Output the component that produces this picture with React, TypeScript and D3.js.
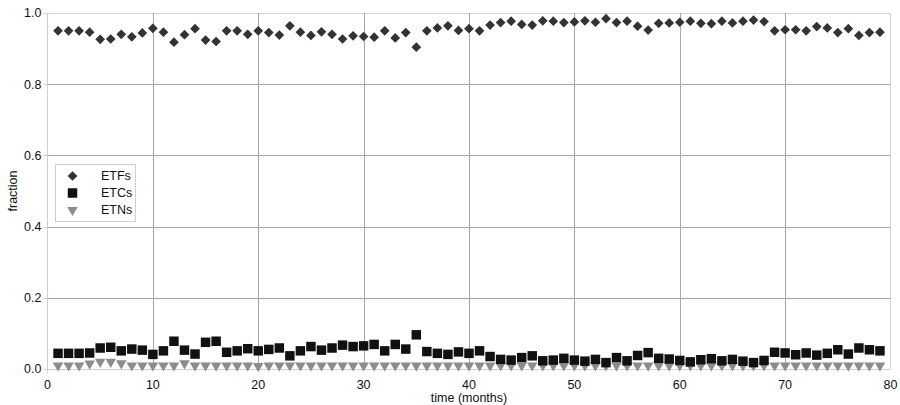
import React, { useEffect } from "react";
import * as d3 from "d3";

const months = d3.range(1, 80);
const etfs = [
  0.95, 0.95, 0.95, 0.946, 0.926, 0.927, 0.94, 0.933, 0.944, 0.957,
  0.946, 0.918, 0.939, 0.956, 0.924, 0.92, 0.95, 0.95, 0.94, 0.95,
  0.945, 0.938, 0.964, 0.946, 0.937, 0.947, 0.94, 0.927, 0.936, 0.934,
  0.932, 0.95, 0.93, 0.945, 0.904, 0.95, 0.958, 0.964, 0.951, 0.956,
  0.95, 0.966, 0.973, 0.977, 0.968, 0.966, 0.978, 0.977, 0.973, 0.975,
  0.978, 0.974, 0.984, 0.973, 0.977, 0.963, 0.952, 0.971, 0.972, 0.974,
  0.977, 0.971, 0.97, 0.977, 0.972, 0.977, 0.98, 0.976, 0.95, 0.953,
  0.953, 0.95, 0.962, 0.958, 0.945, 0.956, 0.937, 0.945, 0.946,
];
const etcs = [
  0.044, 0.044, 0.044, 0.045, 0.059, 0.061, 0.051, 0.056, 0.053, 0.041,
  0.051, 0.078, 0.053, 0.042, 0.075, 0.078, 0.047, 0.051, 0.057, 0.051,
  0.055, 0.059, 0.037, 0.051, 0.063, 0.053, 0.059, 0.067, 0.063, 0.065,
  0.069, 0.051, 0.069, 0.056, 0.096, 0.049, 0.044, 0.041, 0.048, 0.044,
  0.051, 0.035, 0.027, 0.025, 0.032, 0.037, 0.023, 0.025, 0.03, 0.025,
  0.022, 0.027, 0.018, 0.032, 0.023, 0.038, 0.046, 0.03, 0.028, 0.024,
  0.02, 0.026, 0.029, 0.023, 0.027, 0.022, 0.018, 0.024, 0.047, 0.045,
  0.04, 0.045, 0.039, 0.044, 0.054, 0.042, 0.059, 0.054, 0.051,
];
const etns = [
  0.01, 0.01, 0.01, 0.015, 0.02, 0.02, 0.016, 0.01, 0.01, 0.01,
  0.01, 0.01, 0.016, 0.01, 0.01, 0.01, 0.01, 0.01, 0.01, 0.008,
  0.01, 0.01, 0.01, 0.01, 0.01, 0.01, 0.01, 0.01, 0.01, 0.01,
  0.01, 0.01, 0.01, 0.01, 0.01, 0.01, 0.01, 0.01, 0.01, 0.01,
  0.01, 0.01, 0.01, 0.01, 0.01, 0.01, 0.01, 0.01, 0.01, 0.01,
  0.01, 0.01, 0.01, 0.01, 0.01, 0.01, 0.01, 0.01, 0.01, 0.01,
  0.01, 0.01, 0.01, 0.01, 0.01, 0.01, 0.01, 0.01, 0.01, 0.01,
  0.01, 0.01, 0.01, 0.01, 0.01, 0.01, 0.01, 0.01, 0.01,
];
const xTicks = [0, 10, 20, 30, 40, 50, 60, 70, 80];
const yTicks = [0, 0.2, 0.4, 0.6, 0.8, 1.0];
const seriesNames = ["ETFs", "ETCs", "ETNs"];

const W = 900;
const H = 405;
const FONT = "Liberation Sans, Arial, sans-serif";
const TXT = "#111";

export default function App() {
  useEffect(() => {
    document.body.style.margin = "0";
  }, []);

  const x = d3.scaleLinear().domain([0, 80]).range([47.5, 890.5]);
  const y = d3.scaleLinear().domain([0, 1]).range([369, 13]);

  const diamond = d3.symbol().type(d3.symbolDiamond2).size(60)();
  const square = d3.symbol().type(d3.symbolSquare).size(90)();
  const tri = d3.symbol().type(d3.symbolTriangle).size(48)();

  const marker = (i: number, cx: number, cy: number, key: string) => {
    if (i === 0)
      return <path key={key} d={diamond} transform={`translate(${cx},${cy})`} fill="#333" />;
    if (i === 1)
      return <path key={key} d={square} transform={`translate(${cx},${cy})`} fill="#111" />;
    return (
      <path key={key} d={tri} transform={`translate(${cx},${cy}) rotate(180)`} fill="#8c8c8c" />
    );
  };

  const [x0, x1] = x.range();
  const [yb, yt] = y.range();

  return (
    <svg width={W} height={H} style={{ display: "block" }} fontFamily={FONT}>
      <rect width={W} height={H} fill="#fff" />
      <line x1={x0} x2={x1} y1={yt + 0.5} y2={yt + 0.5} stroke="#d4d4d4" />
      <line x1={x1} x2={x1} y1={yt} y2={yb} stroke="#d4d4d4" />
      {yTicks.filter((t) => t > 0 && t < 1).map((t) => (
        <line key={"gy" + t} x1={x0} x2={x1} y1={Math.round(y(t)) + 0.5} y2={Math.round(y(t)) + 0.5} stroke="#a6a6a6" />
      ))}
      {xTicks.filter((t) => t > 0 && t < 80).map((t) => (
        <line key={"gx" + t} x1={Math.round(x(t)) + 0.5} x2={Math.round(x(t)) + 0.5} y1={yt} y2={yb} stroke="#a6a6a6" />
      ))}
      <line x1={x0} x2={x0} y1={yt} y2={yb + 4} stroke="#cfcfcf" />
      <line x1={x0 - 4} x2={x1} y1={yb + 0.5} y2={yb + 0.5} stroke="#cfcfcf" />
      {yTicks.map((t) => (
        <g key={"ty" + t}>
          <line x1={x0 - 4} x2={x0} y1={Math.round(y(t)) + 0.5} y2={Math.round(y(t)) + 0.5} stroke="#cfcfcf" />
          <text x={x0 - 6} y={y(t)} dy="0.35em" textAnchor="end" fontSize={12.5} fill={TXT}>
            {d3.format(".1f")(t)}
          </text>
        </g>
      ))}
      {xTicks.map((t) => (
        <text key={"tx" + t} x={x(t)} y={389} textAnchor="middle" fontSize={12.5} fill={TXT}>
          {t}
        </text>
      ))}
      <text x={(x0 + x1) / 2} y={402} textAnchor="middle" fontSize={12.5} fill={TXT}>
        time (months)
      </text>
      <text transform={`translate(17,${y(0.5)}) rotate(-90)`} textAnchor="middle" fontSize={12.5} fill={TXT}>
        fraction
      </text>
      {months.map((m, i) => marker(2, x(m), y(etns[i]), "n" + m))}
      {months.map((m, i) => marker(1, x(m), y(etcs[i]), "c" + m))}
      {months.map((m, i) => marker(0, x(m), y(etfs[i]), "f" + m))}
      <rect x={55.5} y={164.5} width={80} height={57} fill="#fff" stroke="#cfcfcf" />
      {seriesNames.map((s, i) => (
        <g key={s}>
          {marker(i, 72.5, 176 + i * 17, "l" + s)}
          <text x={101} y={176 + i * 17} dy="0.35em" fontSize={12.5} fill={TXT}>
            {s}
          </text>
        </g>
      ))}
    </svg>
  );
}
